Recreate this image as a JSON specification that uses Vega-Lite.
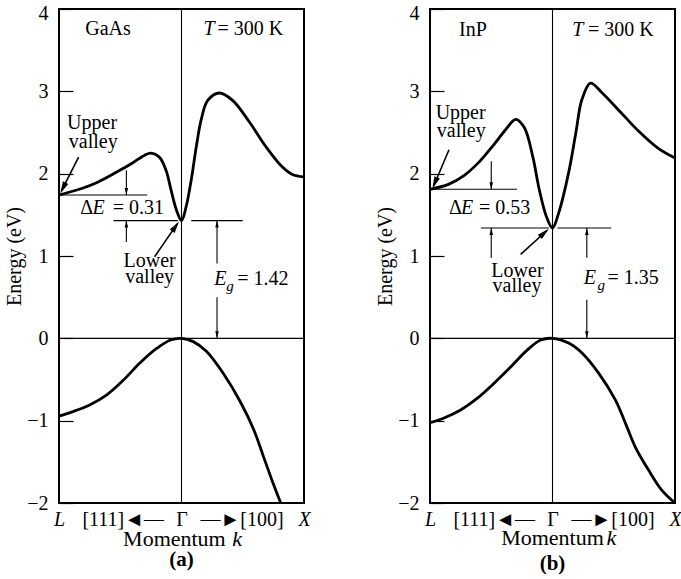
{
  "$schema": "https://vega.github.io/schema/vega-lite/v6.json",
  "background": "white",
  "padding": {"left": 3, "top": 2, "right": 0, "bottom": 0},
  "data": {"values": [
    {"kind": "band", "panel": "a", "band": "CB", "k": -1.0, "E": 1.74},
    {"kind": "band", "panel": "a", "band": "CB", "k": -0.815, "E": 1.82},
    {"kind": "band", "panel": "a", "band": "CB", "k": -0.68, "E": 1.9},
    {"kind": "band", "panel": "a", "band": "CB", "k": -0.54, "E": 2.01},
    {"kind": "band", "panel": "a", "band": "CB", "k": -0.4, "E": 2.13},
    {"kind": "band", "panel": "a", "band": "CB", "k": -0.3, "E": 2.225},
    {"kind": "band", "panel": "a", "band": "CB", "k": -0.25, "E": 2.25},
    {"kind": "band", "panel": "a", "band": "CB", "k": -0.18, "E": 2.2},
    {"kind": "band", "panel": "a", "band": "CB", "k": -0.126, "E": 2.04},
    {"kind": "band", "panel": "a", "band": "CB", "k": -0.085, "E": 1.8},
    {"kind": "band", "panel": "a", "band": "CB", "k": -0.044, "E": 1.57},
    {"kind": "band", "panel": "a", "band": "CB", "k": 0.0, "E": 1.43},
    {"kind": "band", "panel": "a", "band": "CB", "k": 0.038, "E": 1.6},
    {"kind": "band", "panel": "a", "band": "CB", "k": 0.079, "E": 1.92},
    {"kind": "band", "panel": "a", "band": "CB", "k": 0.12, "E": 2.32},
    {"kind": "band", "panel": "a", "band": "CB", "k": 0.16, "E": 2.65},
    {"kind": "band", "panel": "a", "band": "CB", "k": 0.214, "E": 2.89},
    {"kind": "band", "panel": "a", "band": "CB", "k": 0.31, "E": 2.98},
    {"kind": "band", "panel": "a", "band": "CB", "k": 0.417, "E": 2.89},
    {"kind": "band", "panel": "a", "band": "CB", "k": 0.553, "E": 2.63},
    {"kind": "band", "panel": "a", "band": "CB", "k": 0.688, "E": 2.33},
    {"kind": "band", "panel": "a", "band": "CB", "k": 0.824, "E": 2.08},
    {"kind": "band", "panel": "a", "band": "CB", "k": 0.905, "E": 1.99},
    {"kind": "band", "panel": "a", "band": "CB", "k": 1.0, "E": 1.96},
    {"kind": "band", "panel": "a", "band": "VB", "k": -1.0, "E": -0.944},
    {"kind": "band", "panel": "a", "band": "VB", "k": -0.887, "E": -0.89},
    {"kind": "band", "panel": "a", "band": "VB", "k": -0.75, "E": -0.81},
    {"kind": "band", "panel": "a", "band": "VB", "k": -0.613, "E": -0.69},
    {"kind": "band", "panel": "a", "band": "VB", "k": -0.476, "E": -0.51},
    {"kind": "band", "panel": "a", "band": "VB", "k": -0.34, "E": -0.3},
    {"kind": "band", "panel": "a", "band": "VB", "k": -0.2, "E": -0.12},
    {"kind": "band", "panel": "a", "band": "VB", "k": -0.09, "E": -0.02},
    {"kind": "band", "panel": "a", "band": "VB", "k": 0.0, "E": 0.0},
    {"kind": "band", "panel": "a", "band": "VB", "k": 0.096, "E": -0.04},
    {"kind": "band", "panel": "a", "band": "VB", "k": 0.205, "E": -0.16},
    {"kind": "band", "panel": "a", "band": "VB", "k": 0.343, "E": -0.43},
    {"kind": "band", "panel": "a", "band": "VB", "k": 0.48, "E": -0.77},
    {"kind": "band", "panel": "a", "band": "VB", "k": 0.59, "E": -1.11},
    {"kind": "band", "panel": "a", "band": "VB", "k": 0.67, "E": -1.44},
    {"kind": "band", "panel": "a", "band": "VB", "k": 0.75, "E": -1.77},
    {"kind": "band", "panel": "a", "band": "VB", "k": 0.81, "E": -2.0},
    {"kind": "band", "panel": "b", "band": "CB", "k": -1.0, "E": 1.81},
    {"kind": "band", "panel": "b", "band": "CB", "k": -0.85, "E": 1.87},
    {"kind": "band", "panel": "b", "band": "CB", "k": -0.72, "E": 1.98},
    {"kind": "band", "panel": "b", "band": "CB", "k": -0.6, "E": 2.14},
    {"kind": "band", "panel": "b", "band": "CB", "k": -0.48, "E": 2.35},
    {"kind": "band", "panel": "b", "band": "CB", "k": -0.38, "E": 2.54},
    {"kind": "band", "panel": "b", "band": "CB", "k": -0.3, "E": 2.66},
    {"kind": "band", "panel": "b", "band": "CB", "k": -0.23, "E": 2.56},
    {"kind": "band", "panel": "b", "band": "CB", "k": -0.16, "E": 2.2},
    {"kind": "band", "panel": "b", "band": "CB", "k": -0.11, "E": 1.82},
    {"kind": "band", "panel": "b", "band": "CB", "k": -0.05, "E": 1.48},
    {"kind": "band", "panel": "b", "band": "CB", "k": 0.0, "E": 1.34},
    {"kind": "band", "panel": "b", "band": "CB", "k": 0.05, "E": 1.52},
    {"kind": "band", "panel": "b", "band": "CB", "k": 0.13, "E": 2.0},
    {"kind": "band", "panel": "b", "band": "CB", "k": 0.19, "E": 2.49},
    {"kind": "band", "panel": "b", "band": "CB", "k": 0.24, "E": 2.9},
    {"kind": "band", "panel": "b", "band": "CB", "k": 0.31, "E": 3.1},
    {"kind": "band", "panel": "b", "band": "CB", "k": 0.4, "E": 2.99},
    {"kind": "band", "panel": "b", "band": "CB", "k": 0.56, "E": 2.74},
    {"kind": "band", "panel": "b", "band": "CB", "k": 0.7, "E": 2.52},
    {"kind": "band", "panel": "b", "band": "CB", "k": 0.86, "E": 2.31},
    {"kind": "band", "panel": "b", "band": "CB", "k": 1.0, "E": 2.19},
    {"kind": "band", "panel": "b", "band": "VB", "k": -1.0, "E": -1.025},
    {"kind": "band", "panel": "b", "band": "VB", "k": -0.89, "E": -0.97},
    {"kind": "band", "panel": "b", "band": "VB", "k": -0.75, "E": -0.87},
    {"kind": "band", "panel": "b", "band": "VB", "k": -0.616, "E": -0.73},
    {"kind": "band", "panel": "b", "band": "VB", "k": -0.48, "E": -0.55},
    {"kind": "band", "panel": "b", "band": "VB", "k": -0.34, "E": -0.345},
    {"kind": "band", "panel": "b", "band": "VB", "k": -0.205, "E": -0.14},
    {"kind": "band", "panel": "b", "band": "VB", "k": -0.096, "E": -0.02},
    {"kind": "band", "panel": "b", "band": "VB", "k": 0.0, "E": 0.0},
    {"kind": "band", "panel": "b", "band": "VB", "k": 0.135, "E": -0.06},
    {"kind": "band", "panel": "b", "band": "VB", "k": 0.243, "E": -0.18},
    {"kind": "band", "panel": "b", "band": "VB", "k": 0.378, "E": -0.425},
    {"kind": "band", "panel": "b", "band": "VB", "k": 0.514, "E": -0.75},
    {"kind": "band", "panel": "b", "band": "VB", "k": 0.595, "E": -1.03},
    {"kind": "band", "panel": "b", "band": "VB", "k": 0.676, "E": -1.32},
    {"kind": "band", "panel": "b", "band": "VB", "k": 0.784, "E": -1.6},
    {"kind": "band", "panel": "b", "band": "VB", "k": 0.89, "E": -1.84},
    {"kind": "band", "panel": "b", "band": "VB", "k": 1.0, "E": -2.0},

    {"kind": "seg", "role": "guide", "panel": "a", "k": 0, "E": -2, "k2": 0, "E2": 4},
    {"kind": "seg", "role": "guide", "panel": "a", "k": -1, "E": 0, "k2": 1, "E2": 0},
    {"kind": "seg", "role": "guide", "panel": "a", "k": -1, "E": 1.74, "k2": -0.28, "E2": 1.74},
    {"kind": "seg", "role": "guide", "panel": "a", "k": -0.555, "E": 1.43, "k2": -0.03, "E2": 1.43},
    {"kind": "seg", "role": "guide", "panel": "a", "k": 0.08, "E": 1.43, "k2": 0.5, "E2": 1.43},
    {"kind": "seg", "role": "guide", "panel": "a", "k": -0.45, "E": 2.04, "k2": -0.45, "E2": 1.74},
    {"kind": "seg", "role": "guide", "panel": "a", "k": -0.45, "E": 1.17, "k2": -0.45, "E2": 1.43},
    {"kind": "seg", "role": "guide", "panel": "a", "k": 0.29, "E": 0.91, "k2": 0.29, "E2": 1.43},
    {"kind": "seg", "role": "guide", "panel": "a", "k": 0.29, "E": 0.5, "k2": 0.29, "E2": 0},
    {"kind": "seg", "role": "pointer", "panel": "a", "k": -0.84, "E": 2.2, "k2": -0.98, "E2": 1.79},
    {"kind": "seg", "role": "pointer", "panel": "a", "k": -0.22, "E": 0.99, "k2": -0.035, "E2": 1.39},
    {"kind": "seg", "role": "guide", "panel": "b", "k": 0, "E": -2, "k2": 0, "E2": 4},
    {"kind": "seg", "role": "guide", "panel": "b", "k": -1, "E": 0, "k2": 1, "E2": 0},
    {"kind": "seg", "role": "guide", "panel": "b", "k": -1, "E": 1.81, "k2": -0.29, "E2": 1.81},
    {"kind": "seg", "role": "guide", "panel": "b", "k": -0.585, "E": 1.34, "k2": -0.03, "E2": 1.34},
    {"kind": "seg", "role": "guide", "panel": "b", "k": 0.04, "E": 1.34, "k2": 0.48, "E2": 1.34},
    {"kind": "seg", "role": "guide", "panel": "b", "k": -0.5, "E": 2.15, "k2": -0.5, "E2": 1.81},
    {"kind": "seg", "role": "guide", "panel": "b", "k": -0.5, "E": 0.98, "k2": -0.5, "E2": 1.34},
    {"kind": "seg", "role": "guide", "panel": "b", "k": 0.28, "E": 0.98, "k2": 0.28, "E2": 1.34},
    {"kind": "seg", "role": "guide", "panel": "b", "k": 0.28, "E": 0.47, "k2": 0.28, "E2": 0},
    {"kind": "seg", "role": "pointer", "panel": "b", "k": -0.845, "E": 2.29, "k2": -0.97, "E2": 1.85},
    {"kind": "seg", "role": "pointer", "panel": "b", "k": -0.26, "E": 1.02, "k2": -0.045, "E2": 1.31},

    {"kind": "head", "dir": "up", "panel": "a", "k": -0.45, "E": 1.43},
    {"kind": "head", "dir": "up", "panel": "a", "k": 0.29, "E": 1.43},
    {"kind": "head", "dir": "down", "panel": "a", "k": -0.45, "E": 1.74},
    {"kind": "head", "dir": "down", "panel": "a", "k": 0.29, "E": 0},
    {"kind": "head", "dir": "upper", "panel": "a", "k": -0.99, "E": 1.76},
    {"kind": "head", "dir": "lower", "panel": "a", "k": -0.02, "E": 1.42},
    {"kind": "head", "dir": "up", "panel": "b", "k": -0.5, "E": 1.34},
    {"kind": "head", "dir": "up", "panel": "b", "k": 0.28, "E": 1.34},
    {"kind": "head", "dir": "down", "panel": "b", "k": -0.5, "E": 1.81},
    {"kind": "head", "dir": "down", "panel": "b", "k": 0.28, "E": 0},
    {"kind": "head", "dir": "upper", "panel": "b", "k": -0.98, "E": 1.82},
    {"kind": "head", "dir": "lower", "panel": "b", "k": -0.03, "E": 1.33},

    {"kind": "text", "part": "name", "panel": "a", "k": -0.6, "E": 3.76, "text": "GaAs"},
    {"kind": "text", "part": "sym", "panel": "a", "k": 0.179, "E": 3.76, "text": "T"},
    {"kind": "text", "part": "piece", "panel": "a", "k": 0.293, "E": 3.76, "text": "= 300 K"},
    {"kind": "text", "part": "name", "panel": "a", "k": -0.73, "E": 2.61, "text": "Upper"},
    {"kind": "text", "part": "name", "panel": "a", "k": -0.72, "E": 2.38, "text": "valley"},
    {"kind": "text", "part": "piece", "panel": "a", "k": -0.826, "E": 1.585, "text": "Δ"},
    {"kind": "text", "part": "sym", "panel": "a", "k": -0.727, "E": 1.585, "text": "E"},
    {"kind": "text", "part": "piece", "panel": "a", "k": -0.562, "E": 1.585, "text": "= 0.31"},
    {"kind": "text", "part": "name", "panel": "a", "k": -0.26, "E": 0.94, "text": "Lower"},
    {"kind": "text", "part": "name", "panel": "a", "k": -0.26, "E": 0.75, "text": "valley"},
    {"kind": "text", "part": "sym", "panel": "a", "k": 0.268, "E": 0.72, "text": "E"},
    {"kind": "text", "part": "sub", "panel": "a", "k": 0.366, "E": 0.64, "text": "g"},
    {"kind": "text", "part": "piece", "panel": "a", "k": 0.455, "E": 0.72, "text": "= 1.42"},
    {"kind": "text", "part": "axis", "panel": "a", "k": -0.058, "E": -2.44, "text": "Momentum"},
    {"kind": "text", "part": "axissym", "panel": "a", "k": 0.455, "E": -2.44, "text": "k"},
    {"kind": "text", "part": "caption", "panel": "a", "k": 0.0, "E": -2.69, "text": "(a)"},
    {"kind": "text", "part": "name", "panel": "b", "k": -0.65, "E": 3.75, "text": "InP"},
    {"kind": "text", "part": "sym", "panel": "b", "k": 0.161, "E": 3.75, "text": "T"},
    {"kind": "text", "part": "piece", "panel": "b", "k": 0.29, "E": 3.75, "text": "= 300 K"},
    {"kind": "text", "part": "name", "panel": "b", "k": -0.75, "E": 2.74, "text": "Upper"},
    {"kind": "text", "part": "name", "panel": "b", "k": -0.745, "E": 2.52, "text": "valley"},
    {"kind": "text", "part": "piece", "panel": "b", "k": -0.845, "E": 1.58, "text": "Δ"},
    {"kind": "text", "part": "sym", "panel": "b", "k": -0.747, "E": 1.58, "text": "E"},
    {"kind": "text", "part": "piece", "panel": "b", "k": -0.6, "E": 1.58, "text": "= 0.53"},
    {"kind": "text", "part": "name", "panel": "b", "k": -0.286, "E": 0.82, "text": "Lower"},
    {"kind": "text", "part": "name", "panel": "b", "k": -0.29, "E": 0.64, "text": "valley"},
    {"kind": "text", "part": "sym", "panel": "b", "k": 0.255, "E": 0.736, "text": "E"},
    {"kind": "text", "part": "sub", "panel": "b", "k": 0.368, "E": 0.645, "text": "g"},
    {"kind": "text", "part": "piece", "panel": "b", "k": 0.449, "E": 0.736, "text": "= 1.35"},
    {"kind": "text", "part": "axis", "panel": "b", "k": 0.0, "E": -2.43, "text": "Momentum"},
    {"kind": "text", "part": "axissym", "panel": "b", "k": 0.48, "E": -2.43, "text": "k"},
    {"kind": "text", "part": "caption", "panel": "b", "k": 0.0, "E": -2.74, "text": "(b)"}
  ]},
  "facet": {"column": {"field": "panel", "type": "nominal", "header": {"title": null, "labels": false}}},
  "spacing": {"column": 126},
  "bounds": "flush",
  "resolve": {"axis": {"y": "independent", "x": "independent"}},
  "spec": {
    "width": 245,
    "height": 494,
    "encoding": {
      "x": {"field": "k", "type": "quantitative",
        "scale": {"domain": [-1, 1], "nice": false, "zero": false},
        "axis": {"values": [-1, -0.48, 0, 0.49, 1],
          "labelExpr": "datum.value == -1 ? 'L' : datum.value == 1 ? 'X' : datum.value == 0 ? 'Γ' : datum.value < 0 ? '[111]◄—' : '—►[100]'",
          "labelFontSize": 20,
          "labelFontStyle": {"condition": {"test": "abs(datum.value) == 1", "value": "italic"}, "value": "normal"},
          "ticks": false, "labelPadding": 6, "labelFlush": false, "labelOverlap": false, "labelBound": false,
          "labelAngle": 0, "title": null}},
      "y": {"field": "E", "type": "quantitative",
        "scale": {"domain": [-2, 4], "nice": false, "zero": false},
        "axis": {"values": [-2, -1, 0, 1, 2, 3, 4], "format": "d", "tickSize": -14, "tickWidth": 1.2,
          "labelPadding": 25, "labelFontSize": 20,
          "labelOffset": {"condition": {"test": "datum.value == 4", "value": 4}, "value": 0},
          "title": "Energy (eV)", "titleFontSize": 20,
          "titleFontWeight": "normal", "titlePadding": 2}}
    },
    "layer": [
      {"transform": [{"filter": "datum.kind == 'seg' && datum.role == 'guide'"}],
       "mark": {"type": "rule", "strokeWidth": 1.1, "color": "black"},
       "encoding": {"x2": {"field": "k2"}, "y2": {"field": "E2"}}},
      {"transform": [{"filter": "datum.kind == 'seg' && datum.role == 'pointer'"}],
       "mark": {"type": "rule", "strokeWidth": 1.6, "color": "black"},
       "encoding": {"x2": {"field": "k2"}, "y2": {"field": "E2"}}},
      {"transform": [{"filter": "datum.kind == 'band'"}],
       "mark": {"type": "line", "interpolate": "catmull-rom", "strokeWidth": 2.8, "color": "black"},
       "encoding": {"detail": {"field": "band"}}},
      {"transform": [{"filter": "datum.kind == 'head' && datum.dir == 'up'"}],
       "mark": {"type": "point", "shape": "M0,0L-0.25,1L0.25,1Z", "filled": true, "color": "black", "opacity": 1, "size": 196, "angle": 0}},
      {"transform": [{"filter": "datum.kind == 'head' && datum.dir == 'down'"}],
       "mark": {"type": "point", "shape": "M0,0L-0.25,1L0.25,1Z", "filled": true, "color": "black", "opacity": 1, "size": 196, "angle": 180}},
      {"transform": [{"filter": "datum.kind == 'head' && datum.dir == 'upper' && datum.panel == 'a'"}],
       "mark": {"type": "point", "shape": "M0,0L-0.25,1L0.25,1Z", "filled": true, "color": "black", "opacity": 1, "size": 576, "angle": 207}},
      {"transform": [{"filter": "datum.kind == 'head' && datum.dir == 'lower' && datum.panel == 'a'"}],
       "mark": {"type": "point", "shape": "M0,0L-0.25,1L0.25,1Z", "filled": true, "color": "black", "opacity": 1, "size": 576, "angle": 35}},
      {"transform": [{"filter": "datum.kind == 'head' && datum.dir == 'upper' && datum.panel == 'b'"}],
       "mark": {"type": "point", "shape": "M0,0L-0.25,1L0.25,1Z", "filled": true, "color": "black", "opacity": 1, "size": 576, "angle": 203}},
      {"transform": [{"filter": "datum.kind == 'head' && datum.dir == 'lower' && datum.panel == 'b'"}],
       "mark": {"type": "point", "shape": "M0,0L-0.25,1L0.25,1Z", "filled": true, "color": "black", "opacity": 1, "size": 576, "angle": 48}},
      {"transform": [{"filter": "datum.kind == 'text' && datum.part == 'name'"}],
       "mark": {"type": "text", "align": "center", "baseline": "middle", "fontSize": 20, "color": "black"},
       "encoding": {"text": {"field": "text"}}},
      {"transform": [{"filter": "datum.kind == 'text' && datum.part == 'piece'"}],
       "mark": {"type": "text", "align": "left", "baseline": "middle", "fontSize": 20, "color": "black"},
       "encoding": {"text": {"field": "text"}}},
      {"transform": [{"filter": "datum.kind == 'text' && datum.part == 'sym'"}],
       "mark": {"type": "text", "align": "left", "baseline": "middle", "fontSize": 20, "fontStyle": "italic", "color": "black"},
       "encoding": {"text": {"field": "text"}}},
      {"transform": [{"filter": "datum.kind == 'text' && datum.part == 'sub'"}],
       "mark": {"type": "text", "align": "left", "baseline": "middle", "fontSize": 15, "fontStyle": "italic", "color": "black"},
       "encoding": {"text": {"field": "text"}}},
      {"transform": [{"filter": "datum.kind == 'text' && datum.part == 'axis'"}],
       "mark": {"type": "text", "align": "center", "baseline": "middle", "fontSize": 22, "color": "black"},
       "encoding": {"text": {"field": "text"}}},
      {"transform": [{"filter": "datum.kind == 'text' && datum.part == 'axissym'"}],
       "mark": {"type": "text", "align": "center", "baseline": "middle", "fontSize": 22, "fontStyle": "italic", "color": "black"},
       "encoding": {"text": {"field": "text"}}},
      {"transform": [{"filter": "datum.kind == 'text' && datum.part == 'caption'"}],
       "mark": {"type": "text", "align": "center", "baseline": "middle", "fontSize": 21, "fontWeight": "bold", "color": "black"},
       "encoding": {"text": {"field": "text"}}}
    ]
  },
  "config": {
    "font": "Liberation Serif",
    "view": {"stroke": "black", "strokeWidth": 2},
    "axis": {"grid": false, "domain": false, "labelColor": "black", "titleColor": "black", "tickColor": "black",
      "labelFont": "Liberation Serif", "titleFont": "Liberation Serif"},
    "text": {"font": "Liberation Serif"}
  }
}
